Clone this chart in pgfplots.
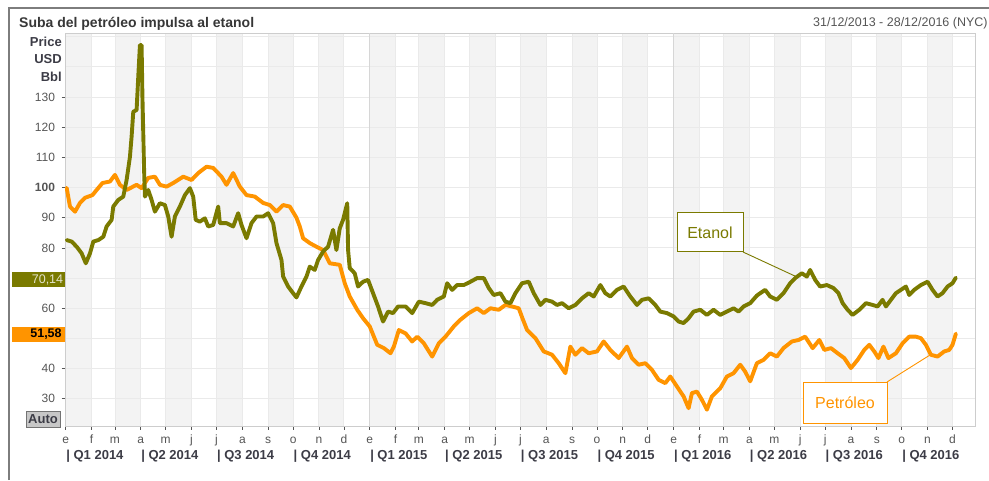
\documentclass[border=0pt]{standalone}
\usepackage{pgfplots}
\pgfplotsset{compat=1.18}
\usepackage{fontspec}
\setmainfont{Liberation Sans}
\definecolor{etanol}{RGB}{122,122,0}
\definecolor{petro}{RGB}{255,148,0}
\definecolor{stripe}{RGB}{243,243,243}
\definecolor{gridc}{RGB}{234,234,234}
\definecolor{yearc}{RGB}{214,214,214}
\definecolor{borderc}{RGB}{205,205,205}
\definecolor{txt}{RGB}{85,85,85}
\definecolor{qtxt}{RGB}{60,60,70}
\definecolor{titlec}{RGB}{55,55,55}
\definecolor{framec}{RGB}{125,125,125}

\pgfplotstableread{
day val
1 99.9
5 93.7
11 92.0
17 94.9
23 96.6
32 97.5
37 99.2
44 101.5
53 102.0
59 104.2
65 100.9
73 99.2
85 100.9
91 99.8
99 103.2
107 103.6
113 100.9
121 100.3
129 101.5
141 103.6
151 102.5
159 104.8
169 106.9
177 106.5
187 103.6
193 100.9
201 104.8
209 100.3
217 97.5
227 97.0
237 94.9
245 94.2
253 92.0
261 94.2
269 93.7
277 90.0
281 87.1
285 83.2
293 81.6
301 80.4
309 79.3
317 74.9
329 74.4
335 68.3
341 63.9
350 59.5
357 56.7
365 54.0
374 47.9
382 46.8
390 45.1
394 47.3
400 52.8
408 51.7
416 49.0
422 50.6
430 48.4
440 44.0
448 48.4
456 50.6
466 54.0
474 56.2
484 58.4
494 60.0
502 58.4
510 60.0
520 59.5
528 61.1
536 60.6
544 60.0
548 57.0
554 52.8
564 50.1
574 45.7
584 44.6
592 41.8
600 38.5
606 47.3
612 44.6
620 46.8
628 45.1
638 45.7
646 49.0
654 46.2
664 43.5
674 47.3
680 43.5
688 41.3
696 41.8
704 39.6
712 36.3
720 35.2
726 37.4
734 34.1
742 30.8
748 26.9
752 31.9
758 32.4
764 29.7
770 26.4
776 30.8
786 33.5
794 37.4
802 38.5
810 41.3
816 39.0
822 35.8
830 41.8
838 42.9
846 45.1
854 44.0
862 46.8
872 49.0
880 49.5
888 50.6
897 46.8
905 49.5
911 46.2
919 46.8
927 45.1
935 43.5
943 40.2
951 42.9
959 46.2
965 47.9
971 45.7
976 43.5
982 47.3
988 43.5
997 45.1
1005 48.4
1013 50.6
1021 50.6
1027 50.1
1033 47.9
1039 44.6
1047 44.0
1055 45.7
1061 46.2
1065 47.9
1069 51.58
}\petroleo

\pgfplotstableread{
day val
1 82.6
7 82.1
13 80.4
19 78.2
24 74.9
29 78.2
33 82.1
39 82.6
45 83.7
49 87.1
55 89.3
57 93.7
63 95.9
69 97.0
73 102.5
77 110.2
79 116.9
81 125.1
85 125.7
87 136.7
89 147.2
91 147.2
92 130.1
94 105.8
95 97.0
99 99.2
103 95.9
107 92.0
113 94.8
119 94.2
123 90.4
127 83.7
131 90.4
137 93.7
143 97.5
149 99.8
153 97.0
156 89.3
161 88.7
167 89.8
171 87.1
177 87.6
183 93.7
185 88.2
193 88.2
201 87.1
207 91.5
211 87.6
217 83.2
223 88.2
229 90.4
237 90.4
243 91.5
249 88.2
253 81.6
259 76.0
261 70.5
267 67.2
273 65.0
277 63.6
283 67.2
289 70.5
293 73.8
299 72.7
303 76.0
309 78.8
315 80.4
321 86.0
325 79.3
329 86.5
333 89.3
338 94.8
339 79.3
341 73.3
347 71.6
351 67.2
357 68.8
363 69.4
369 65.0
375 60.6
381 55.6
387 58.9
393 58.4
399 60.6
408 60.6
416 58.4
424 62.2
432 61.7
440 61.1
446 62.8
454 63.9
458 68.3
464 66.1
470 67.7
478 67.7
486 68.8
494 70.0
502 70.0
508 66.7
514 64.4
522 65.0
528 62.2
534 61.7
540 65.0
548 68.3
556 68.8
562 65.0
570 61.1
576 62.8
584 62.2
590 61.1
596 61.7
604 60.0
612 61.1
620 63.3
628 65.0
634 63.9
642 67.7
648 65.0
654 63.9
662 66.1
670 67.2
678 63.9
686 61.1
692 62.8
700 63.3
708 61.1
714 58.9
722 58.4
730 57.3
736 55.6
742 55.1
748 56.7
754 58.9
762 59.5
770 57.8
778 59.5
786 57.8
794 58.9
802 60.0
808 58.9
814 60.6
822 61.7
830 64.2
834 65.0
840 66.1
846 63.9
854 62.8
862 65.0
870 68.3
876 70.0
884 71.6
890 70.5
894 72.7
900 69.4
906 67.2
914 67.7
922 66.7
928 65.0
933 61.7
939 59.5
945 57.8
953 59.5
961 61.7
969 61.1
975 60.6
981 62.8
985 60.6
991 62.8
997 65.0
1003 66.1
1009 67.2
1013 64.4
1019 66.1
1027 67.7
1035 68.8
1041 66.1
1047 63.9
1053 65.0
1059 67.2
1065 68.3
1069 70.14
}\etanoltab

\begin{document}
\begin{tikzpicture}[x=1pt,y=1pt]
\draw[line width=1.8pt, framec] (9,0) -- (9,472) -- (989,472);

\node[anchor=base west, font=\bfseries\fontsize{14}{14}\selectfont, text=titlec, inner sep=0] at (19,452) {Suba del petróleo impulsa al etanol};
\begin{scope}
\clip (0,0) rectangle (989,480);
\node[anchor=base west, font=\fontsize{12.5}{12.5}\selectfont, text=txt, inner sep=0] at (813,453) {31/12/2013 - 28/12/2016 (NYC)};
\end{scope}

\begin{axis}[
  set layers,
  at={(65pt,54pt)}, anchor=south west,
  scale only axis, width=910pt, height=393pt,
  xmin=-1, xmax=1092, ymin=21, ymax=151.2,
  axis line style={draw=borderc, line width=0.8pt},
  tick align=outside,
  tick pos=left,
  major tick length=3.5pt,
  every tick/.style={draw=txt, line width=0.8pt},
  grid=major,
  major grid style={draw=gridc, line width=0.9pt},
  /pgf/number format/assume math mode=true,
  xtick={0,31,59,90,120,151,181,212,243,273,304,334,365,396,424,455,485,516,546,577,608,638,669,699,730,761,790,821,851,882,912,943,974,1004,1035,1065},
  xticklabels={e,f,m,a,m,j,j,a,s,o,n,d,e,f,m,a,m,j,j,a,s,o,n,d,e,f,m,a,m,j,j,a,s,o,n,d},
  x tick label style={font=\fontsize{12}{12}\selectfont, text=txt, anchor=north, text height=9pt, text depth=0pt, yshift=-1.5pt},
  ytick={30,40,...,130},
  yticklabels={30,40,{},60,{},80,90,\textbf{100},110,120,130},
  y tick label style={font=\fontsize{12}{12}\selectfont, text=txt, xshift=-3pt},
  extra x ticks={0,90,181,273,365,455,546,638,730,821,912,1004},
  extra x tick labels={{| Q1 2014},{| Q2 2014},{| Q3 2014},{| Q4 2014},{| Q1 2015},{| Q2 2015},{| Q3 2015},{| Q4 2015},{| Q1 2016},{| Q2 2016},{| Q3 2016},{| Q4 2016}},
  extra x tick style={major tick length=0pt, x tick label style={anchor=north west, xshift=-3pt, yshift=-19pt, font=\bfseries\fontsize{13}{13}\selectfont, text=qtxt, text height=9.5pt}},
  extra y ticks={140,150},
  extra y tick labels={{},{}},
  extra y tick style={major tick length=0pt},
]
\begin{pgfonlayer}{axis background}
\fill[stripe] (axis cs:-1,21) rectangle (axis cs:31,151.2);
\fill[stripe] (axis cs:59,21) rectangle (axis cs:90,151.2);
\fill[stripe] (axis cs:120,21) rectangle (axis cs:151,151.2);
\fill[stripe] (axis cs:181,21) rectangle (axis cs:212,151.2);
\fill[stripe] (axis cs:243,21) rectangle (axis cs:273,151.2);
\fill[stripe] (axis cs:304,21) rectangle (axis cs:334,151.2);
\fill[stripe] (axis cs:365,21) rectangle (axis cs:396,151.2);
\fill[stripe] (axis cs:424,21) rectangle (axis cs:455,151.2);
\fill[stripe] (axis cs:485,21) rectangle (axis cs:516,151.2);
\fill[stripe] (axis cs:546,21) rectangle (axis cs:577,151.2);
\fill[stripe] (axis cs:608,21) rectangle (axis cs:638,151.2);
\fill[stripe] (axis cs:669,21) rectangle (axis cs:699,151.2);
\fill[stripe] (axis cs:730,21) rectangle (axis cs:761,151.2);
\fill[stripe] (axis cs:790,21) rectangle (axis cs:821,151.2);
\fill[stripe] (axis cs:851,21) rectangle (axis cs:882,151.2);
\fill[stripe] (axis cs:912,21) rectangle (axis cs:943,151.2);
\fill[stripe] (axis cs:974,21) rectangle (axis cs:1004,151.2);
\fill[stripe] (axis cs:1035,21) rectangle (axis cs:1065,151.2);
\end{pgfonlayer}
\begin{pgfonlayer}{pre main}
\draw[yearc, line width=1pt] (axis cs:365,21) -- (axis cs:365,151.2);
\draw[yearc, line width=1pt] (axis cs:730,21) -- (axis cs:730,151.2);
\end{pgfonlayer}
\addplot[petro, line width=3.9pt, line join=round, line cap=round] table[x=day, y=val] {\petroleo};
\addplot[etanol, line width=3.9pt, line join=round, line cap=round] table[x=day, y=val] {\etanoltab};
\end{axis}

% axis title
\node[anchor=base east, font=\bfseries\fontsize{13}{13}\selectfont, text=qtxt, inner sep=0] at (62,433) {Price};
\node[anchor=base east, font=\bfseries\fontsize{13}{13}\selectfont, text=qtxt, inner sep=0] at (62,416) {USD};
\node[anchor=base east, font=\bfseries\fontsize{13}{13}\selectfont, text=qtxt, inner sep=0] at (62,398) {Bbl};

% last value boxes
\fill[etanol] (12,193) rectangle (65,208);
\node[font=\fontsize{12.5}{12.5}\selectfont, text=white!80!etanol, inner sep=0] at (47.5,200.5) {70,14};
\fill[petro] (12,138) rectangle (65,153);
\node[font=\bfseries\fontsize{12.5}{12.5}\selectfont, text=black, inner sep=0] at (46,145.5) {51,58};

% Auto button
\draw[fill=black!22, draw=black!55, line width=0.8pt] (26,53) rectangle (60,69);
\node[font=\bfseries\fontsize{13}{13}\selectfont, text=qtxt, inner sep=0] at (43,61) {Auto};

% annotations
\draw[etanol, line width=0.9pt] (743,228) -- (797,203);
\draw[etanol, line width=1pt, fill=white] (677,228) rectangle (743,267);
\node[font=\fontsize{16}{16}\selectfont, text=etanol, inner sep=0] at (710,247.5) {Etanol};
\draw[petro, line width=0.9pt] (887,98) -- (930,125);
\draw[petro, line width=1pt, fill=white] (803,57) rectangle (887,98);
\node[font=\fontsize{16}{16}\selectfont, text=petro, inner sep=0] at (845,77.5) {Petróleo};

\pgfresetboundingbox
\useasboundingbox (0,0) rectangle (989,480);
\end{tikzpicture}
\end{document}
